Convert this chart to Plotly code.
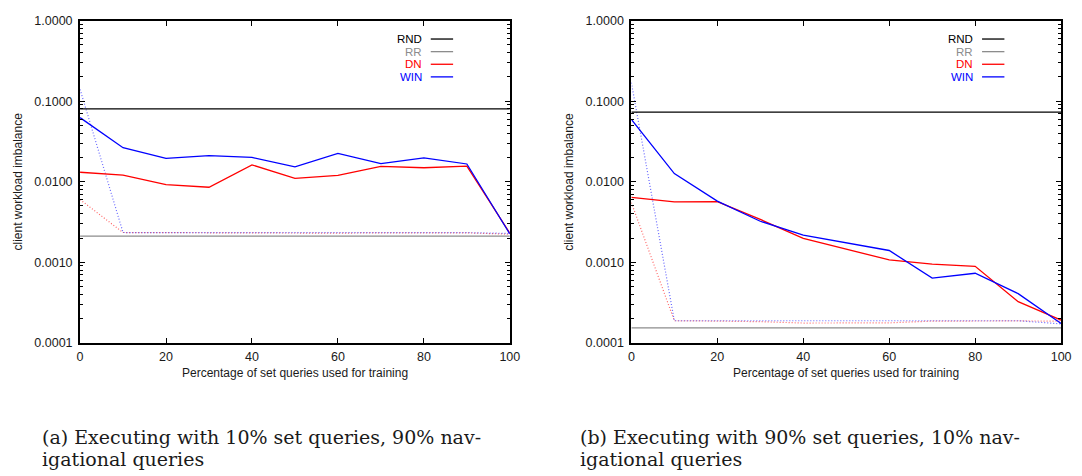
import plotly.graph_objects as go

# Percentage of set queries used for training
train_pct = [0, 10, 20, 30, 40, 50, 60, 70, 80, 90, 100]

# (a) 10% set queries, 90% navigational queries
rnd_a = [0.080, 0.080, 0.080, 0.080, 0.080, 0.080, 0.080, 0.080, 0.080, 0.080, 0.080]
rr_a = [0.00211, 0.00211, 0.00211, 0.00211, 0.00211, 0.00211, 0.00211, 0.00211, 0.00211, 0.00211, 0.00211]
dn_a = [0.0131, 0.0121, 0.0092, 0.00853, 0.0162, 0.0110, 0.0120, 0.0155, 0.0149, 0.0156, 0.00230]
win_a = [0.0624, 0.0264, 0.0195, 0.0211, 0.0200, 0.0153, 0.0224, 0.0168, 0.0198, 0.0166, 0.00225]
dn_test_a = [0.0060, 0.00234, 0.00233, 0.00232, 0.00230, 0.00231, 0.00230, 0.00232, 0.00233, 0.00232, 0.00223]
win_test_a = [0.14, 0.00234, 0.00233, 0.00233, 0.00232, 0.00233, 0.00232, 0.00233, 0.00233, 0.00233, 0.00228]

# (b) 90% set queries, 10% navigational queries
rnd_b = [0.073, 0.073, 0.073, 0.073, 0.073, 0.073, 0.073, 0.073, 0.073, 0.073, 0.073]
rr_b = [0.000153, 0.000153, 0.000153, 0.000153, 0.000153, 0.000153, 0.000153, 0.000153, 0.000153, 0.000153, 0.000153]
dn_b = [0.0064, 0.00563, 0.00565, 0.0034, 0.00198, 0.00146, 0.00107, 0.00095, 0.00089, 0.000324, 0.000191]
win_b = [0.0595, 0.0126, 0.00574, 0.00323, 0.00217, 0.00173, 0.0014, 0.000637, 0.00073, 0.000408, 0.000174]
dn_test_b = [0.0055, 0.000188, 0.000186, 0.000183, 0.000176, 0.000175, 0.000177, 0.000186, 0.000188, 0.000187, 0.000186]
win_test_b = [0.17, 0.000188, 0.000188, 0.000188, 0.000188, 0.000188, 0.000188, 0.000188, 0.000188, 0.000188, 0.000172]

series_names = ["RND", "RR", "DN", "WIN"]
series_colors = ["#000000", "#8c8c8c", "#ff0000", "#0000ff"]

y_tick_vals = [0.0001, 0.001, 0.01, 0.1, 1]
y_tick_text = ["0.0001", "0.0010", "0.0100", "0.1000", "1.0000"]
x_tick_vals = [0, 20, 40, 60, 80, 100]

captions = [
    ("(a) Executing with 10% set queries, 90% nav-", "igational queries"),
    ("(b) Executing with 90% set queries, 10% nav-", "igational queries"),
]

panels = [
    dict(solid=[rnd_a, rr_a, dn_a, win_a], dotted=[dn_test_a, win_test_a]),
    dict(solid=[rnd_b, rr_b, dn_b, win_b], dotted=[dn_test_b, win_test_b]),
]

W, H = 1082, 476
x_domains = [[78 / W, 513 / W], [636 / W, 1071 / W]]
y_domain = [(H - 346) / H, (H - 14) / H]
plot_h = 346 - 14

SANS = "Liberation Sans, Arial, Helvetica, sans-serif"
TICK_FONT = dict(family=SANS, size=12.5, color="#1a1a1a")
TITLE_FONT = dict(family=SANS, size=12, color="#1a1a1a")

minor_vals = [m * 10 ** e for e in range(-4, 0) for m in range(2, 10)]

fig = go.Figure()
annotations = []
shapes = []

# key rows, pixel offsets from the top of the plot area
key_px = [19, 32, 45, 58]
key_rows = [1 - p / plot_h for p in key_px]

for i, panel in enumerate(panels):
    xa = "x" if i == 0 else "x2"
    ya = "y" if i == 0 else "y2"
    # dotted series drawn first, underneath the solid lines
    for vals, col in zip(panel["dotted"], ["#ff0000", "#0000ff"]):
        fig.add_trace(go.Scatter(
            x=train_pct, y=vals, mode="lines", xaxis=xa, yaxis=ya,
            line=dict(color=col, width=1.2, dash="1px,2px"), opacity=0.6,
            showlegend=False, hoverinfo="skip"))
    for vals, name, col in zip(panel["solid"], series_names, series_colors):
        fig.add_trace(go.Scatter(
            x=train_pct, y=vals, mode="lines", name=name, xaxis=xa, yaxis=ya,
            line=dict(color=col, width=1.3), showlegend=False))

    # key: label followed by a short line sample, top right of each panel
    xref = ("x" if i == 0 else "x2") + " domain"
    yref = ("y" if i == 0 else "y2") + " domain"
    for name, col, ky in zip(series_names, series_colors, key_rows):
        annotations.append(dict(
            text=name, xref=xref, yref=yref, x=0.798, y=ky, xanchor="right",
            yanchor="middle", showarrow=False, borderpad=0,
            font=dict(family=SANS, size=11.5, color=col)))
        shapes.append(dict(
            type="line", xref=xref, yref=yref, x0=0.816, x1=0.868, y0=ky, y1=ky,
            line=dict(color=col, width=1.3)))

    # axis titles
    px_left = 78 if i == 0 else 636
    annotations.append(dict(
        text="Percentage of set queries used for training", xref=xref, yref="paper",
        x=0.5, y=(H - 377) / H, xanchor="center", yanchor="middle", showarrow=False,
        font=TITLE_FONT))
    annotations.append(dict(
        text="client workload imbalance", xref="paper", yref=yref,
        x=(px_left - 63) / W, y=0.5, xanchor="center", yanchor="middle",
        textangle=-90, showarrow=False, font=TITLE_FONT))

    # sub-figure captions
    cap_x = (38 if i == 0 else 583) / W
    for line, cy in zip(captions[i], [443, 465.5]):
        annotations.append(dict(
            text=line, xref="paper", yref="paper", x=cap_x, y=(H - cy) / H,
            xanchor="left", yanchor="middle", showarrow=False, borderpad=0,
            font=dict(family="DejaVu Serif, serif", size=19, color="#1a1a1a")))

axis_common = dict(
    showline=True, linewidth=2, linecolor="#000000", mirror="allticks",
    ticks="inside", ticklen=5, tickwidth=1, tickcolor="#000000",
    showgrid=False, zeroline=False, tickfont=TICK_FONT,
)

layout = dict(
    width=W, height=H, margin=dict(l=0, r=0, t=0, b=0),
    paper_bgcolor="#ffffff", plot_bgcolor="#ffffff",
    showlegend=False, annotations=annotations, shapes=shapes,
)
for i in range(2):
    xk = "xaxis" if i == 0 else "xaxis2"
    yk = "yaxis" if i == 0 else "yaxis2"
    layout[xk] = dict(axis_common, domain=x_domains[i], range=[0, 100],
                      tickvals=x_tick_vals, anchor="y" if i == 0 else "y2",
                      ticklabelstandoff=1)
    layout[yk] = dict(axis_common, domain=y_domain, type="log", range=[-4, 0],
                      tickvals=y_tick_vals, ticktext=y_tick_text,
                      anchor="x" if i == 0 else "x2", ticklabelstandoff=3,
                      minor=dict(tickvals=minor_vals, ticks="inside", ticklen=3,
                                 tickwidth=1, tickcolor="#000000", showgrid=False))

fig.update_layout(**layout)
fig.write_html("out.html")
